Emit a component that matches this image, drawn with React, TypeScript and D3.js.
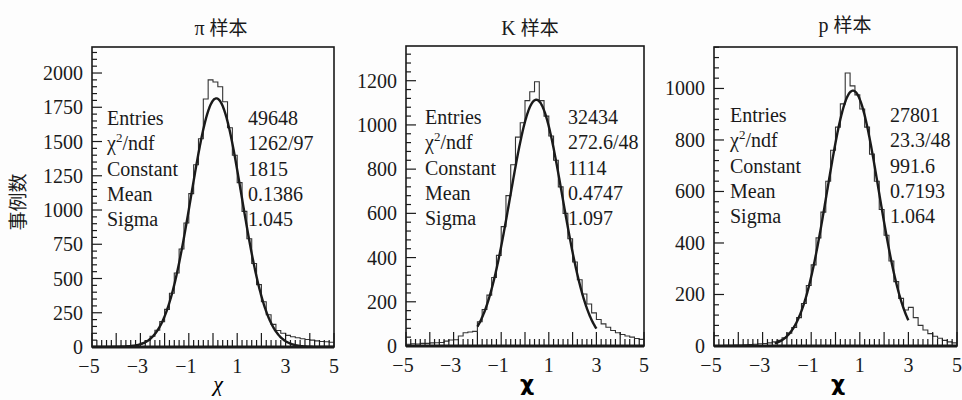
import React, { useEffect, useRef } from 'react';
import * as d3 from 'd3';

// histogram bins: 50 bins of width 0.2 from -5 to 5
const binStart = -5;
const binWidth = 0.2;

const piCounts = [4, 3, 4, 3, 5, 5, 6, 8, 12, 18, 28, 48, 78, 122, 185, 275, 392, 540, 715, 905,
  1120, 1330, 1520, 1810, 1950, 1935, 1900, 1790, 1600, 1400, 1200, 990, 790, 610, 455, 330, 235, 165, 120, 100,
  85, 75, 68, 60, 55, 50, 45, 40, 38, 35];
const kCounts = [8, 10, 9, 12, 12, 14, 15, 16, 22, 27, 28, 45, 60, 63, 66, 110, 165, 230, 310, 410,
  540, 680, 820, 945, 1010, 1110, 1150, 1195, 1110, 1040, 950, 840, 720, 600, 485, 380, 300, 235, 190, 150,
  120, 100, 85, 70, 60, 52, 45, 40, 34, 30];
const pCounts = [2, 2, 3, 3, 4, 4, 5, 6, 7, 9, 10, 12, 16, 22, 32, 50, 72, 110, 165, 235,
  315, 420, 520, 640, 760, 850, 940, 1060, 1010, 975, 920, 850, 745, 640, 530, 430, 330, 250, 185, 140,
  150, 110, 80, 62, 48, 38, 30, 22, 16, 12];

// fit results from the stat boxes
const statLabels = ['Entries', 'χ2/ndf', 'Constant', 'Mean', 'Sigma'];
const piStats = ['49648', '1262/97', '1815', '0.1386', '1.045'];
const kStats = ['32434', '272.6/48', '1114', '0.4747', '1.097'];
const pStats = ['27801', '23.3/48', '991.6', '0.7193', '1.064'];
const piFit = { constant: 1815, mean: 0.1386, sigma: 1.045, range: [-5, 5] };
const kFit = { constant: 1114, mean: 0.4747, sigma: 1.097, range: [-2, 3] };
const pFit = { constant: 991.6, mean: 0.7193, sigma: 1.064, range: [-2.5, 3] };

const titles = ['π 样本', 'K 样本', 'p 样本'];
const xTickLabels = [-5, -3, -1, 1, 3, 5];

const serif = '"Liberation Serif", "Times New Roman", "DejaVu Serif", serif';
const cjk = '"Noto Sans CJK SC", "Noto Sans CJK JP", sans-serif';
const ink = '#1a1a1a';

const panels = [
  { title: titles[0], counts: piCounts, stats: piStats, fit: piFit, left: 92, right: 334, top: 47, bottom: 347,
    yTop: 2190, yStep: 250, yMinor: 50, titleX: 221, titleY: 35, labelX: 107, valueX: 248, rowY: 125, boldChi: false, chiX: 218, chiY: 391 },
  { title: titles[1], counts: kCounts, stats: kStats, fit: kFit, left: 406, right: 644, top: 46, bottom: 346,
    yTop: 1357, yStep: 200, yMinor: 40, titleX: 530, titleY: 35, labelX: 425, valueX: 568, rowY: 124, boldChi: true, chiX: 527, chiY: 391 },
  { title: titles[2], counts: pCounts, stats: pStats, fit: pFit, left: 714, right: 957, top: 47, bottom: 346,
    yTop: 1161, yStep: 200, yMinor: 40, titleX: 845, titleY: 32, labelX: 730, valueX: 890, rowY: 122, boldChi: true, chiX: 838, chiY: 391 },
];

const App = () => {
  const svgRef = useRef<SVGSVGElement | null>(null);

  useEffect(() => {
    const svg = d3.select(svgRef.current);
    svg.selectAll('*').remove();

    svg.append('rect').attr('width', 962).attr('height', 400).attr('fill', '#fdfdfd');

    // y axis title
    svg.append('text')
      .attr('transform', 'translate(25,202) rotate(-90)')
      .attr('text-anchor', 'middle')
      .style('font-family', cjk)
      .style('font-size', '19px')
      .attr('fill', ink)
      .text('事例数');

    panels.forEach((p, i) => {
      const x = d3.scaleLinear().domain([-5, 5]).range([p.left, p.right]);
      const y = d3.scaleLinear().domain([0, p.yTop]).range([p.bottom, p.top]);
      const g = svg.append('g');

      const clipId = `clip${i}`;
      svg.append('clipPath').attr('id', clipId)
        .append('rect').attr('x', p.left).attr('y', p.top)
        .attr('width', p.right - p.left).attr('height', p.bottom - p.top);

      // title
      const t = g.append('text')
        .attr('x', p.titleX).attr('y', p.titleY)
        .attr('text-anchor', 'middle')
        .attr('fill', ink)
        .style('font-size', '19px');
      t.append('tspan').style('font-family', serif).style('font-size', '20px').text(p.title.split(' ')[0] + ' ');
      t.append('tspan').style('font-family', cjk).text(p.title.split(' ')[1]);

      // histogram as steps
      const pts: [number, number][] = [];
      p.counts.forEach((c, k) => {
        const x0 = binStart + k * binWidth;
        pts.push([x0, c]);
        pts.push([x0 + binWidth, c]);
      });
      const step = d3.line<[number, number]>().x(d => x(d[0])).y(d => y(d[1]));
      g.append('path')
        .attr('d', step(pts))
        .attr('clip-path', `url(#${clipId})`)
        .attr('fill', 'none')
        .attr('stroke', '#333')
        .attr('stroke-width', 1.1);

      // gaussian fit curve
      const { constant, mean, sigma, range } = p.fit;
      const xs = d3.range(range[0], range[1] + 1e-9, 0.02);
      const fitLine = d3.line<number>()
        .x(d => x(d))
        .y(d => y(constant * Math.exp(-((d - mean) ** 2) / (2 * sigma * sigma))))
        .curve(d3.curveBasis);
      g.append('path')
        .attr('d', fitLine(xs))
        .attr('clip-path', `url(#${clipId})`)
        .attr('fill', 'none')
        .attr('stroke', ink)
        .attr('stroke-width', 2.4);

      // frame
      g.append('rect')
        .attr('x', p.left).attr('y', p.top)
        .attr('width', p.right - p.left).attr('height', p.bottom - p.top)
        .attr('fill', 'none').attr('stroke', ink).attr('stroke-width', 1.6);
      g.append('line')
        .attr('x1', p.left).attr('x2', p.right)
        .attr('y1', p.bottom).attr('y2', p.bottom)
        .attr('stroke', ink).attr('stroke-width', 2.8);

      // x ticks, pointing up inside the frame
      d3.range(-5, 5.0001, 0.2).forEach(v => {
        const major = Math.abs(v - Math.round(v)) < 1e-6;
        g.append('line')
          .attr('x1', x(v)).attr('x2', x(v))
          .attr('y1', p.bottom).attr('y2', p.bottom - (major ? 14 : 7))
          .attr('stroke', ink).attr('stroke-width', 1.2);
      });
      xTickLabels.forEach(v => {
        g.append('text')
          .attr('x', x(v) + (v < 0 ? -3 : 0)).attr('y', p.bottom + 26)
          .attr('text-anchor', 'middle')
          .style('font-family', serif).style('font-size', '20px')
          .attr('fill', ink)
          .text(v < 0 ? `−${-v}` : `${v}`);
      });

      // y ticks, pointing right inside the frame
      d3.range(0, p.yTop, p.yMinor).forEach(v => {
        const major = Math.abs(v / p.yStep - Math.round(v / p.yStep)) < 1e-6;
        g.append('line')
          .attr('x1', p.left).attr('x2', p.left + (major ? 10 : 5))
          .attr('y1', y(v)).attr('y2', y(v))
          .attr('stroke', ink).attr('stroke-width', 1.2);
      });
      d3.range(0, p.yTop, p.yStep).forEach(v => {
        g.append('text')
          .attr('x', p.left - 9).attr('y', y(v) + 7)
          .attr('text-anchor', 'end')
          .style('font-family', serif).style('font-size', '20px')
          .attr('fill', ink)
          .text(v);
      });

      // stat box text
      statLabels.forEach((lab, r) => {
        const ty = p.rowY + r * 25.3;
        const lt = g.append('text')
          .attr('x', p.labelX).attr('y', ty)
          .style('font-family', serif).style('font-size', '20px')
          .attr('fill', ink);
        if (lab === 'χ2/ndf') {
          lt.append('tspan').text('χ');
          lt.append('tspan').attr('dy', -8).style('font-size', '13px').text('2');
          lt.append('tspan').attr('dy', 8).text('/ndf');
        } else {
          lt.text(lab);
        }
        g.append('text')
          .attr('x', p.valueX).attr('y', ty)
          .style('font-family', serif).style('font-size', '20px')
          .attr('fill', ink)
          .text(p.stats[r]);
      });

      // x axis title
      g.append('text')
        .attr('x', p.chiX).attr('y', p.chiY)
        .attr('text-anchor', 'middle')
        .style('font-family', p.boldChi ? '"DejaVu Sans", sans-serif' : serif)
        .style('font-style', p.boldChi ? 'normal' : 'italic')
        .style('font-weight', p.boldChi ? 'bold' : 'normal')
        .style('font-size', '22px')
        .attr('fill', '#000')
        .text('χ');
    });
  }, []);

  return (
    <svg ref={svgRef} width={962} height={400}
      style={{ position: 'absolute', left: 0, top: 0, display: 'block' }} />
  );
};

export default App;
